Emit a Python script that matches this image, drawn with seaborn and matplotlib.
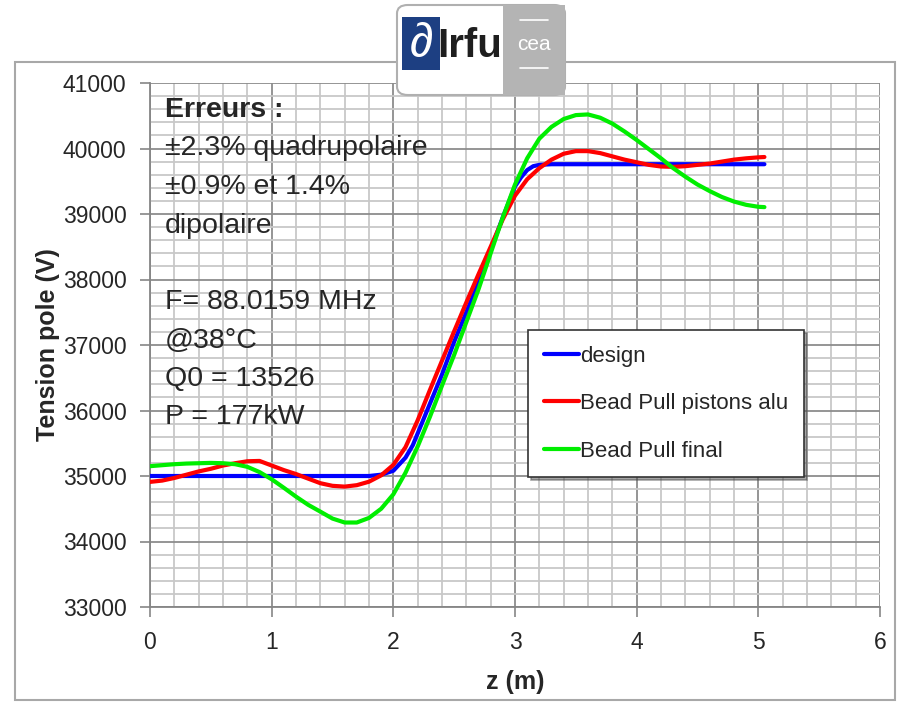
import numpy as np
import pandas as pd
import seaborn as sns
import matplotlib.pyplot as plt
from matplotlib.patches import Rectangle, FancyBboxPatch
from matplotlib.ticker import MultipleLocator

# values
z_design = [0.0, 0.5, 1.0, 1.5, 1.8, 1.9, 2.0, 2.1, 2.16, 2.2, 2.3, 2.4, 2.5, 2.6, 2.7,
            2.8, 2.9, 3.0, 3.05, 3.1, 3.15, 3.2, 3.3, 3.5, 4.0, 4.5, 5.05]
v_design = [35000, 35000, 35000, 35000, 35000, 35020, 35080, 35280, 35470, 35650, 36100,
            36550, 37050, 37500, 37950, 38450, 38950, 39420, 39560, 39670, 39730, 39750,
            39760, 39760, 39760, 39760, 39760]

z_alu = [0.0, 0.1, 0.2, 0.3, 0.4, 0.5, 0.6, 0.7, 0.8, 0.9, 1.0, 1.1, 1.2, 1.3, 1.4, 1.5,
         1.6, 1.7, 1.8, 1.9, 2.0, 2.1, 2.2, 2.3, 2.4, 2.5, 2.6, 2.7, 2.8, 2.9, 3.0, 3.1,
         3.2, 3.3, 3.4, 3.5, 3.6, 3.7, 3.8, 3.9, 4.0, 4.1, 4.2, 4.3, 4.4, 4.5, 4.6, 4.7,
         4.8, 4.9, 5.0, 5.05]
v_alu = [34910, 34930, 34970, 35020, 35070, 35110, 35160, 35195, 35225, 35230, 35160,
         35090, 35030, 34960, 34890, 34850, 34838, 34860, 34913, 35010, 35170, 35440,
         35850, 36310, 36760, 37210, 37650, 38080, 38500, 38920, 39280, 39530, 39700,
         39830, 39920, 39960, 39960, 39930, 39880, 39830, 39790, 39750, 39725, 39720,
         39730, 39750, 39770, 39800, 39830, 39850, 39865, 39870]

z_final = [0.0, 0.1, 0.2, 0.3, 0.4, 0.5, 0.6, 0.7, 0.8, 0.9, 1.0, 1.1, 1.2, 1.3, 1.4, 1.5,
           1.6, 1.7, 1.8, 1.9, 2.0, 2.1, 2.2, 2.3, 2.4, 2.5, 2.6, 2.7, 2.8, 2.9, 3.0, 3.1,
           3.2, 3.3, 3.4, 3.5, 3.6, 3.7, 3.8, 3.9, 4.0, 4.1, 4.2, 4.3, 4.4, 4.5, 4.6, 4.7,
           4.8, 4.9, 5.0, 5.05]
v_final = [35150, 35165, 35180, 35190, 35195, 35200, 35195, 35180, 35140, 35060, 34950,
           34820, 34685, 34560, 34456, 34350, 34290, 34290, 34360, 34500, 34720, 35050,
           35450, 35900, 36380, 36850, 37350, 37850, 38400, 38950, 39450, 39850, 40150,
           40330, 40450, 40510, 40520, 40470, 40380, 40260, 40130, 39990, 39850, 39700,
           39570, 39450, 39350, 39260, 39190, 39140, 39110, 39105]

series_names = ["design", "Bead Pull pistons alu", "Bead Pull final"]
series_colors = ["#0000ff", "#ff0000", "#00ee00"]

notes_top = ["±2.3% quadrupolaire", "±0.9% et 1.4%", "dipolaire"]
notes_bottom = ["F= 88.0159 MHz", "@38°C", "Q0 = 13526", "P = 177kW"]

df = pd.concat([
    pd.DataFrame({"z": z_design, "V": v_design, "serie": series_names[0]}),
    pd.DataFrame({"z": z_alu, "V": v_alu, "serie": series_names[1]}),
    pd.DataFrame({"z": z_final, "V": v_final, "serie": series_names[2]}),
])

sns.set_theme(style="white")
plt.rcParams['font.family'] = ['Liberation Sans', 'DejaVu Sans']

fig = plt.figure(figsize=(9.03, 7.04), dpi=100)
ax = fig.add_axes([150 / 903, 1 - 607 / 704, 730 / 903, 524 / 704])

# outer frame of the slide
fig.patches.append(Rectangle((15 / 903, 1 - 700 / 704), 880 / 903, 638 / 704,
                             transform=fig.transFigure, fill=False,
                             edgecolor="#a8a8a8", linewidth=1.5, zorder=0))

sns.lineplot(data=df, x="z", y="V", hue="serie", palette=dict(zip(series_names, series_colors)),
             linewidth=3, sort=False, estimator=None, ax=ax, legend=False, zorder=5)

ax.set_xlim(0, 6)
ax.set_ylim(33000, 41000)
ax.xaxis.set_major_locator(MultipleLocator(1))
ax.xaxis.set_minor_locator(MultipleLocator(0.2))
ax.yaxis.set_major_locator(MultipleLocator(1000))
ax.yaxis.set_minor_locator(MultipleLocator(200))
ax.grid(which="minor", color="#c8c8c8", linewidth=1.3)
ax.grid(which="major", color="#8c8c8c", linewidth=1.3)
ax.set_axisbelow(True)
for s in ["top", "right"]:
    ax.spines[s].set_visible(False)
for s in ["left", "bottom"]:
    ax.spines[s].set_color("#868686")
    ax.spines[s].set_linewidth(1.3)
ax.tick_params(which="major", direction="out", length=7, width=1.2, color="#868686",
               labelsize=16.5, left=True, bottom=True)
ax.tick_params(axis="y", pad=10)
ax.tick_params(axis="x", pad=10)
ax.tick_params(which="minor", length=0)

ax.set_xlabel("z (m)", fontsize=18, fontweight="bold", labelpad=12)
ax.set_ylabel("Tension pole (V)", fontsize=18, fontweight="bold", labelpad=2)

# annotation block
def ypos(py):
    return (607 - py) / 524

ax.text(15 / 730, ypos(110), "Erreurs :", fontsize=20.5, fontweight="bold", va="center",
        transform=ax.transAxes, zorder=6)
for i, t in enumerate(notes_top):
    ax.text(15 / 730, ypos(148 + 39 * i), t, fontsize=20.5, va="center",
            transform=ax.transAxes, zorder=6)
for i, t in enumerate(notes_bottom):
    ax.text(15 / 730, ypos(302 + 38.5 * i), t, fontsize=20.5, va="center",
            transform=ax.transAxes, zorder=6)

# legend
handles = [plt.Line2D([], [], color=c, linewidth=3) for c in series_colors]
leg = ax.legend(handles, series_names, loc="upper left",
                bbox_to_anchor=((528 - 150) / 730, ypos(330)), fontsize=16,
                handlelength=1.6, handletextpad=0.05, labelspacing=1.2,
                borderpad=0.7, borderaxespad=0, fancybox=False, shadow=True,
                framealpha=1, edgecolor="#333333")
leg.get_frame().set_linewidth(1.2)
leg.set_zorder(7)

# logo header
fig.patches.append(FancyBboxPatch((397 / 903, 1 - 95 / 704), 168 / 903, 90 / 704,
                                  boxstyle="round,pad=0,rounding_size=0.012",
                                  transform=fig.transFigure, facecolor="white",
                                  edgecolor="#b0b0b0", linewidth=1.5, zorder=3))
fig.patches.append(Rectangle((503 / 903, 1 - 95 / 704), 62 / 903, 90 / 704,
                             transform=fig.transFigure, facecolor="#b4b4b4",
                             edgecolor="none", zorder=4))
fig.patches.append(Rectangle((402 / 903, 1 - 70 / 704), 38 / 903, 53 / 704,
                             transform=fig.transFigure, facecolor="#1d3f82",
                             edgecolor="none", zorder=4))
fig.text(421 / 903, 1 - 44 / 704, "∂", fontsize=34, color="white", ha="center",
         va="center", fontstyle="italic", zorder=5)
fig.text(470 / 903, 1 - 46 / 704, "Irfu", fontsize=29, fontweight="bold",
         color="#1e1e1e", ha="center", va="center", zorder=5)
fig.text(534 / 903, 1 - 44 / 704, "cea", fontsize=15, color="white", ha="center",
         va="center", zorder=5)
for py in [20, 68]:
    fig.lines.append(plt.Line2D([520 / 903, 548 / 903], [1 - py / 704, 1 - py / 704],
                                transform=fig.transFigure, color="white",
                                linewidth=1.2, zorder=5))

fig.savefig("out.png", dpi=100)
